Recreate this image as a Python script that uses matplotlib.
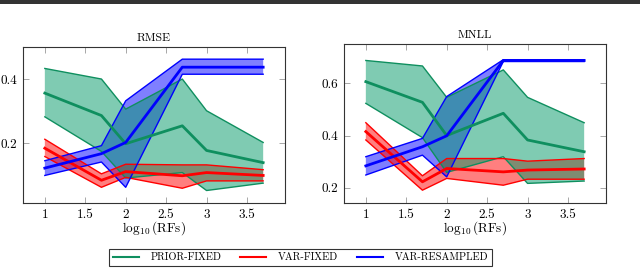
import matplotlib
matplotlib.use("Agg")
import matplotlib.pyplot as plt
from matplotlib.lines import Line2D
from matplotlib.patches import Rectangle

plt.rcParams['font.family'] = ['cmr10', 'DejaVu Serif']
plt.rcParams['mathtext.fontset'] = 'cm'
plt.rcParams['axes.formatter.use_mathtext'] = True

x = [1, 1.7, 2, 2.7, 3, 3.7]

# RMSE panel
rmse_prior_mean = [0.356, 0.286, 0.198, 0.254, 0.177, 0.139]
rmse_prior_up = [0.433, 0.400, 0.306, 0.400, 0.301, 0.202]
rmse_prior_lo = [0.282, 0.174, 0.091, 0.108, 0.052, 0.075]
rmse_var_mean = [0.184, 0.084, 0.111, 0.098, 0.108, 0.099]
rmse_var_up = [0.212, 0.104, 0.134, 0.132, 0.132, 0.117]
rmse_var_lo = [0.158, 0.062, 0.093, 0.059, 0.082, 0.082]
rmse_res_mean = [0.122, 0.167, 0.202, 0.437, 0.437, 0.437]
rmse_res_up = [0.145, 0.192, 0.332, 0.462, 0.462, 0.462]
rmse_res_lo = [0.099, 0.141, 0.062, 0.415, 0.415, 0.415]

# MNLL panel
mnll_prior_mean = [0.606, 0.527, 0.400, 0.485, 0.383, 0.338]
mnll_prior_up = [0.687, 0.666, 0.546, 0.651, 0.546, 0.449]
mnll_prior_lo = [0.523, 0.392, 0.259, 0.319, 0.217, 0.226]
mnll_var_mean = [0.415, 0.223, 0.274, 0.261, 0.268, 0.272]
mnll_var_up = [0.449, 0.246, 0.312, 0.312, 0.302, 0.312]
mnll_var_lo = [0.383, 0.191, 0.236, 0.210, 0.233, 0.233]
mnll_res_mean = [0.284, 0.357, 0.399, 0.687, 0.687, 0.687]
mnll_res_up = [0.319, 0.389, 0.549, 0.690, 0.690, 0.690]
mnll_res_lo = [0.249, 0.325, 0.242, 0.683, 0.683, 0.683]

labels = ['PRIOR-FIXED', 'VAR-FIXED', 'VAR-RESAMPLED']
line_colors = ['#0f8f5f', '#ff0000', '#0000ff']
fill_colors = ['#009966', '#ff0000', '#0000ff']

fig = plt.figure(figsize=(6.4, 2.69), dpi=100)
fig.patches.append(Rectangle((0, 1 - 3.5/269), 1, 3.5/269, transform=fig.transFigure,
                             facecolor='#333333', edgecolor='none'))

ax1 = fig.add_axes([23/640, 1 - 203/269, 262/640, 156/269])
ax2 = fig.add_axes([344/640, 1 - 203/269, 262/640, 159/269])

def draw(ax, series, ylim, yticks, title):
    # fills: resampled first, then var-fixed, prior-fixed on top
    for idx in [2, 1, 0]:
        m, u, l = series[idx]
        ax.fill_between(x, l, u, facecolor=fill_colors[idx], alpha=0.5,
                        edgecolor='none', zorder=2)
    for idx in [0, 1, 2]:
        m, u, l = series[idx]
        c = line_colors[idx]
        ax.plot(x, u, color=c, lw=1.0, zorder=3)
        ax.plot(x, l, color=c, lw=1.0, zorder=3)
        ax.plot(x, m, color=c, lw=2.0, zorder=4)
    ax.set_xlim(0.73, 3.97)
    ax.set_ylim(*ylim)
    ax.set_xticks([1, 1.5, 2, 2.5, 3, 3.5])
    ax.set_xticklabels(['1', '1.5', '2', '2.5', '3', '3.5'])
    ax.set_yticks(yticks)
    ax.set_yticklabels([f'{v:.1f}' for v in yticks])
    ax.tick_params(direction='in', length=4, width=0.6, color='#999999',
                   top=True, right=True, labelsize=9.5, pad=4)
    for s in ax.spines.values():
        s.set_linewidth(0.8)
        s.set_color('#333333')
    ax.set_title(title, fontsize=8.5, pad=4)
    ax.set_xlabel(r'$\log_{10}$(RFs)', fontsize=9.5, labelpad=-1)

draw(ax1, [(rmse_prior_mean, rmse_prior_up, rmse_prior_lo),
           (rmse_var_mean, rmse_var_up, rmse_var_lo),
           (rmse_res_mean, rmse_res_up, rmse_res_lo)],
     (0.013, 0.5), [0.2, 0.4], 'RMSE')
draw(ax2, [(mnll_prior_mean, mnll_prior_up, mnll_prior_lo),
           (mnll_var_mean, mnll_var_up, mnll_var_lo),
           (mnll_res_mean, mnll_res_up, mnll_res_lo)],
     (0.142, 0.75), [0.2, 0.4, 0.6], 'MNLL')

handles = [Line2D([], [], color=c, lw=1.5) for c in line_colors]
leg = fig.legend(handles, labels, loc='center', bbox_to_anchor=(300.5/640, 1 - 257.5/269),
                 ncol=3, fontsize=7.5, frameon=True, fancybox=False, edgecolor='black',
                 handlelength=2.5, columnspacing=1.8, borderpad=0.35, handletextpad=1.1)
leg.get_frame().set_linewidth(0.8)

fig.savefig('out.png', dpi=100)
